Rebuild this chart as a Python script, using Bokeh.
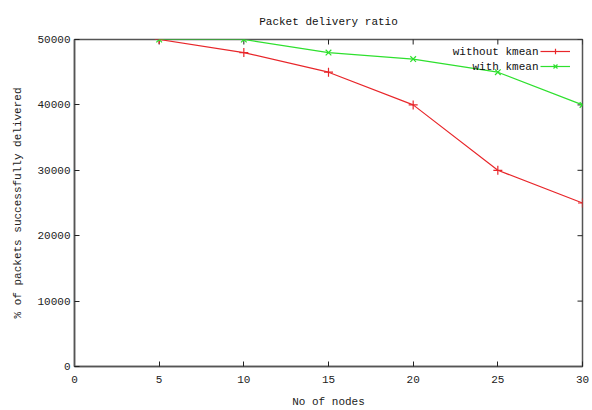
import math
from bokeh.plotting import figure
from bokeh.models import Range1d, FixedTicker, Legend, LegendItem, Label
from bokeh.embed import file_html
from bokeh.resources import INLINE

nodes = [5, 10, 15, 20, 25, 30]
without_kmean = [50000, 48000, 45000, 40000, 30000, 25000]
with_kmean = [50000, 50000, 48000, 47000, 45000, 40000]
x_ticks = [0, 5, 10, 15, 20, 25, 30]
y_ticks = [0, 10000, 20000, 30000, 40000, 50000]
series_names = ["without kmean", "with kmean"]

FONT = "Liberation Mono"
AX = "#555555"
TICK = "#222222"

p = figure(width=592, height=410, output_backend="svg", toolbar_location=None,
           x_range=Range1d(0, 30), y_range=Range1d(0, 50000),
           min_border_left=74, min_border_right=10, min_border_top=39, min_border_bottom=43)
p.title.text = "Packet delivery ratio"
p.title.align = "center"
p.title.text_font = FONT
p.title.text_font_size = "11px"
p.title.text_font_style = "normal"
p.title.text_color = "#111111"
p.title.standoff = 24

p.grid.visible = False
p.outline_line_color = AX
p.outline_line_width = 1.5
p.background_fill_color = "white"
p.border_fill_color = "white"

for ax in [p.xaxis[0], p.yaxis[0]]:
    ax.major_tick_in = 5
    ax.major_tick_out = 0
    ax.minor_tick_in = 0
    ax.minor_tick_out = 0
    ax.axis_line_color = AX
    ax.axis_line_width = 1.5
    ax.major_tick_line_color = TICK
    ax.major_label_text_font = FONT
    ax.major_label_text_font_size = "11px"
    ax.major_label_text_color = "#222222"
    ax.axis_label_text_font = FONT
    ax.axis_label_text_font_size = "11px"
    ax.axis_label_text_font_style = "normal"
    ax.axis_label_text_color = "#222222"

p.xaxis[0].ticker = FixedTicker(ticks=x_ticks)
p.yaxis[0].ticker = FixedTicker(ticks=y_ticks)
p.yaxis[0].formatter.use_scientific = False
p.xaxis[0].axis_label = "No of nodes"
p.yaxis[0].axis_label = "% of packets successfully delivered"
p.xaxis[0].major_label_standoff = 9
p.xaxis[0].axis_label_standoff = 10
p.yaxis[0].major_label_standoff = 4
p.yaxis[0].axis_label_standoff = 10

# mirrored inward ticks on the top and right edges (clipped to the frame)
p.scatter(x_ticks, [y_ticks[-1]] * len(x_ticks), marker="dash", size=10, angle=math.pi / 2,
          line_color=TICK, line_width=1)
p.scatter([x_ticks[-1]] * len(y_ticks), y_ticks, marker="dash", size=10,
          line_color=TICK, line_width=1)

red = "#e8262a"
green = "#2ee02e"
l1 = p.line(nodes, without_kmean, line_color=red, line_width=1.2)
s1 = p.scatter(nodes, without_kmean, marker="cross", size=9, line_color=red, line_width=1.2)
l2 = p.line(nodes, with_kmean, line_color=green, line_width=1.2)
s2 = p.scatter(nodes, with_kmean, marker="x", size=8, line_color=green, line_width=1.2)

legend = Legend(items=[LegendItem(label="", renderers=[l1, s1]),
                       LegendItem(label="", renderers=[l2, s2])],
                location=(466, 293), orientation="vertical",
                glyph_width=30, glyph_height=14, label_standoff=0, label_width=0,
                padding=0, margin=0, spacing=1,
                border_line_color=None, background_fill_alpha=0)
p.add_layout(legend, "center")

for i, name in enumerate(series_names):
    p.add_layout(Label(x=464, y=315 - 15 * i, x_units="screen", y_units="screen",
                       text=name, text_align="right", text_baseline="middle",
                       text_font=FONT, text_font_size="11px", text_color="#111111"))

open("out.html", "w").write(file_html(p, INLINE))
